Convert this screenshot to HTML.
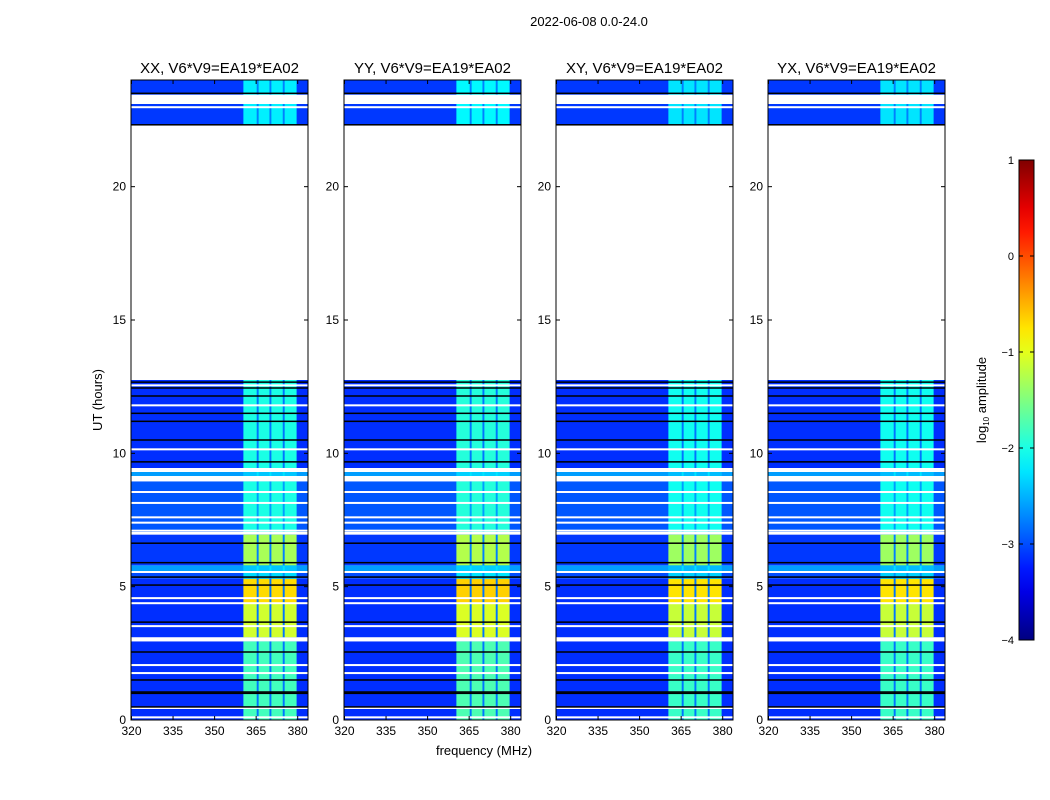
<!DOCTYPE html>
<html><head><meta charset="utf-8"><style>
body{margin:0;background:#fff;}
svg{display:block;font-family:"Liberation Sans",sans-serif;}
</style></head><body>
<svg id="chart" width="1050" height="800">
<text x="589" y="26" font-size="13" text-anchor="middle">2022-06-08 0.0-24.0</text>
<text transform="translate(102,400) rotate(-90)" font-size="13" text-anchor="middle">UT (hours)</text>
<text x="484" y="755" font-size="13" text-anchor="middle">frequency (MHz)</text>
<g id="panels"></g>
<g id="cbar"></g>
</svg>
<script>
// ---- data ----
const panelTitles = ["XX, V6*V9=EA19*EA02","YY, V6*V9=EA19*EA02","XY, V6*V9=EA19*EA02","YX, V6*V9=EA19*EA02"];
const panelLeft = [131, 344, 556, 768];
const panelGain = [0, 0.05, -0.05, -0.05];
// time segments: start hour, end hour, background log10 amp, RFI band log10 amp
const segStart = [0, 3.1, 4.4, 5.3, 5.55, 5.8, 7.05, 9.15, 9.45, 22.3];
const segEnd   = [2.95, 4.4, 5.3, 5.55, 5.8, 6.95, 8.95, 9.3, 12.75, 24];
const segBg    = [-3.15, -3.15, -3.15, -3.0, -2.6, -3.1, -2.95, -2.6, -3.15, -3.1];
const segRfi   = [-1.8, -1.1, -0.7, -2.3, -2.4, -1.3, -2.0, -2.4, -2.0, -2.2];
const blankStart = [2.95, 8.95, 9.3, 12.75, 23.1];
const blankEnd   = [3.1, 9.15, 9.45, 22.3, 23.45];
const whiteLines = [0.1, 0.45, 1.76, 2.06, 3.52, 4.38, 4.57, 5.55, 7.0, 7.1, 7.4, 7.6, 8.14, 8.55, 10.15, 11.8, 12.55, 22.98];
const blackLines = [0.49, 1.0, 1.05, 1.5, 2.55, 3.67, 5.06, 5.36, 5.9, 6.63, 9.68, 10.5, 11.2, 11.5, 12.15, 12.45, 12.67, 22.32, 23.5];
// RFI frequency columns (MHz)
const rfiLo = [360.4, 365.9, 370.5, 375.3];
const rfiHi = [365.2, 369.8, 374.6, 379.6];
const xTicks = [320, 335, 350, 365, 380];
const yTicks = [0, 5, 10, 15, 20];
const cbTicks = [1, 0, -1, -2, -3, -4];

// ---- scales ----
const W = 177, TOP = 80, BOT = 720, FMIN = 320, FMAX = 383.9;
const yS = t => BOT - (t / 24) * (BOT - TOP);
const NS = "http://www.w3.org/2000/svg";
function jet(v){ // v log10 amp in [-4,1]
  let t = Math.max(0, Math.min(1, (v + 4) / 5));
  const c = x => Math.round(255 * Math.max(0, Math.min(1, x)));
  const r = c(Math.min(4*t-1.5, -4*t+4.5)), g = c(Math.min(4*t-0.5, -4*t+3.5)), b = c(Math.min(4*t+0.5, -4*t+2.5));
  return `rgb(${r},${g},${b})`;
}
function mk(tag, attrs, parent){ const e=document.createElementNS(NS,tag); for(const k in attrs) e.setAttribute(k,attrs[k]); parent.appendChild(e); return e; }

const panels = document.getElementById('panels');
panelLeft.forEach((L, p) => {
  const xS = f => L + 0.5 + (f - FMIN) / (FMAX - FMIN) * W;
  const g = mk('g', {}, panels);
  
  
  mk('rect', {x:L, y:TOP, width:W, height:BOT-TOP, fill:'#fff'}, g);
  segStart.forEach((s, i) => {
    const y0 = yS(segEnd[i]), y1 = yS(s);
    const r = mk('rect', {x:L, y:y0, width:W, height:y1-y0, fill:jet(segBg[i])}, g);
    
    
    const gap = mk('rect', {x:xS(rfiLo[0]), y:y0, width:xS(rfiHi[3])-xS(rfiLo[0]), height:y1-y0, fill:jet(segBg[i] + 0.35)}, g);
    
    
    rfiLo.forEach((lo, k) => {
      const c = mk('rect', {x:xS(lo), y:y0, width:xS(rfiHi[k])-xS(lo), height:y1-y0, fill:jet(segRfi[i] + panelGain[p])}, g);
      
      
    });
  });
  blankStart.forEach((s, i) => {
    const b = mk('rect', {x:L, y:yS(blankEnd[i]), width:W, height:yS(s)-yS(blankEnd[i]), fill:'#fff'}, g);
    
    
  });
  whiteLines.forEach(t => {
    const l = mk('rect', {x:L, y:yS(t)-1, width:W, height:2, fill:'#fff'}, g);
    
    
  });
  blackLines.forEach(t => {
    const l = mk('rect', {x:L, y:yS(t)-0.75, width:W, height:1.5, fill:'#000'}, g);
    
    
  });
  const fr = mk('rect', {x:L, y:TOP, width:W, height:BOT-TOP, fill:'none', stroke:'#000', 'stroke-width':1}, g);
  
  
  const tt = mk('text', {x:L+W/2, y:TOP-7, 'font-size':15, 'text-anchor':'middle'}, g);
  tt.textContent = panelTitles[p];
  
  
  xTicks.forEach(f => {
    const x = xS(f);
    mk('line', {x1:x, x2:x, y1:BOT, y2:BOT-4, stroke:'#000'}, g);
    mk('line', {x1:x, x2:x, y1:TOP, y2:TOP+4, stroke:'#000'}, g);
    const tl = mk('text', {x:x, y:BOT+15, 'font-size':12, 'text-anchor':'middle'}, g);
    tl.textContent = f;
    
    
  });
  yTicks.forEach(t => {
    const y = yS(t);
    mk('line', {x1:L, x2:L+4, y1:y, y2:y, stroke:'#000'}, g);
    mk('line', {x1:L+W, x2:L+W-4, y1:y, y2:y, stroke:'#000'}, g);
    const tl = mk('text', {x:L-5, y:y+4, 'font-size':12, 'text-anchor':'end'}, g);
    tl.textContent = t;
    
    
  });
});

// colorbar
const cb = document.getElementById('cbar');
const CX = 1019, CW = 15, CT = 160, CB = 640;
const cbY = v => CT + (1 - v) / 5 * (CB - CT);
const defs = mk('defs', {}, cb);
const grad = mk('linearGradient', {id:'jetg', x1:0, y1:1, x2:0, y2:0}, defs);
for (let i = 0; i <= 20; i++) mk('stop', {offset:(i/20), 'stop-color':jet(-4 + i*5/20)}, grad);
const cr = mk('rect', {x:CX, y:CT, width:CW, height:CB-CT, fill:'url(#jetg)', stroke:'#000', 'stroke-width':1}, cb);


cbTicks.forEach(v => {
  const y = cbY(v);
  mk('line', {x1:CX, x2:CX+4, y1:y, y2:y, stroke:'#000'}, cb);
  mk('line', {x1:CX+CW, x2:CX+CW-4, y1:y, y2:y, stroke:'#000'}, cb);
  const tl = mk('text', {x:CX-5, y:y+4, 'font-size':11, 'text-anchor':'end'}, cb);
  tl.textContent = v < 0 ? '\u2212' + (-v) : v;
  
  
});
const cl = mk('text', {transform:'translate(986,400) rotate(-90)', 'font-size':13, 'text-anchor':'middle'}, cb);
cl.innerHTML = 'log<tspan font-size="8" dy="3">10</tspan><tspan dy="-3"> amplitude</tspan>';


</script>
</body></html>
